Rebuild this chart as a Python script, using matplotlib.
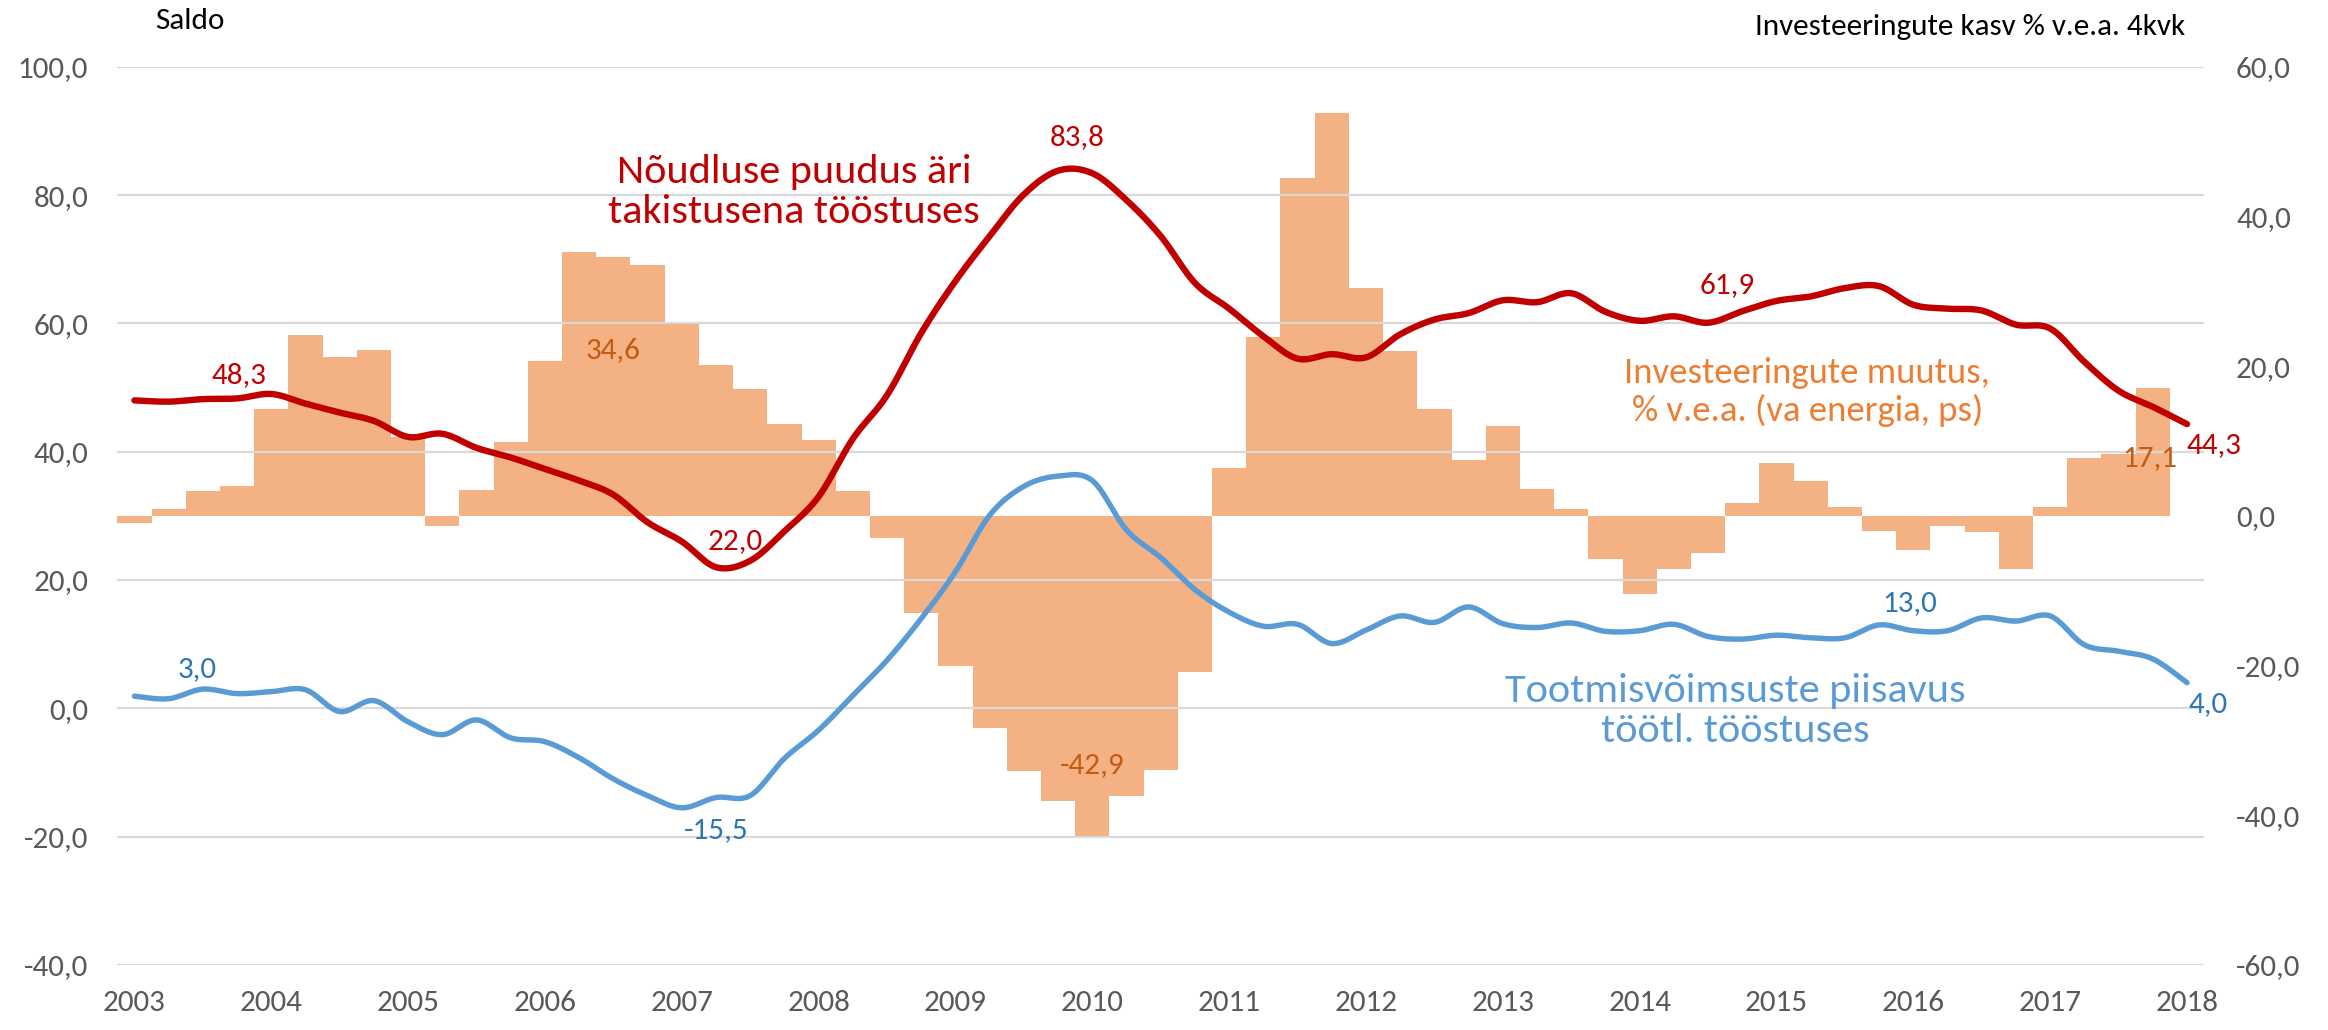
import numpy as np
import matplotlib
matplotlib.use("Agg")
import matplotlib.pyplot as plt
from matplotlib import font_manager as fm
from matplotlib.ticker import FuncFormatter, MultipleLocator

# ---------------- data ----------------
year_labels = [str(y) for y in range(2003, 2019)]

# Investment growth, % y/y (4 quarters), quarterly 2003Q1..2017Q4 (right axis)
investment = [-0.9, 0.9, 3.3, 4.0, 14.3, 24.2, 21.2, 22.1, 10.6, -1.3,
              3.4, 9.9, 20.7, 35.2, 34.6, 33.5, 25.9, 20.2, 17.0, 12.3,
              10.2, 3.3, -3.0, -13.0, -20.1, -28.4, -34.1, -38.1, -42.9, -37.4,
              -33.9, -20.9, 6.4, 23.9, 45.2, 53.8, 30.4, 22.0, 14.3, 7.5,
              12.0, 3.6, 0.9, -5.7, -10.4, -7.1, -5.0, 1.7, 7.1, 4.6,
              1.2, -2.0, -4.5, -1.4, -2.2, -7.1, 1.2, 7.7, 8.2, 17.1]

# Lack of demand as a limiting factor in industry, balance, 2003Q1..2018Q1 (left axis)
demand = [48.0, 47.8, 48.2, 48.3, 49.0, 47.5, 46.1, 44.8, 42.3, 42.8,
          40.6, 39.1, 37.3, 35.5, 33.3, 29.0, 26.0, 22.0, 23.0, 27.6,
          33.0, 42.0, 48.8, 58.5, 66.6, 73.6, 80.1, 83.8, 83.4, 79.2,
          73.6, 66.3, 62.3, 58.0, 54.5, 55.2, 54.7, 58.3, 60.6, 61.6,
          63.6, 63.3, 64.7, 61.8, 60.4, 61.1, 60.1, 61.9, 63.5, 64.2,
          65.5, 65.8, 62.9, 62.3, 62.0, 59.8, 59.2, 54.0, 49.5, 47.0, 44.3]

# Adequacy of production capacity in manufacturing, balance, 2003Q1..2018Q1 (left axis)
capacity = [1.9, 1.5, 3.0, 2.3, 2.6, 2.9, -0.5, 1.2, -2.1, -4.1,
            -1.8, -4.6, -5.2, -7.7, -11.0, -13.6, -15.5, -13.9, -13.6, -7.8,
            -3.4, 2.0, 7.5, 14.0, 21.3, 30.1, 34.6, 36.2, 35.5, 27.8,
            23.5, 18.5, 15.0, 12.8, 13.1, 10.1, 12.2, 14.4, 13.4, 15.8,
            13.2, 12.6, 13.3, 12.0, 12.1, 13.1, 11.2, 10.8, 11.4, 11.0,
            11.0, 13.0, 12.1, 12.1, 14.1, 13.6, 14.4, 9.9, 8.9, 7.7, 4.0]

# ---------------- fonts ----------------
names = {f.name for f in fm.fontManager.ttflist}
if 'Carlito' in names:
    FAM, K = ['Carlito', 'DejaVu Sans'], 1.0
else:
    FAM, K = ['Lato', 'DejaVu Sans'], 0.88
plt.rcParams['font.family'] = FAM

FS = 22.4 * K          # tick / label size
FS_BIG = 30.4 * K
FS_ORANGE = 26.5 * K

RED = '#C00000'
BLUE = '#5B9BD5'
BLUE_LBL = '#2E75B6'
BAR = '#F4B183'
ORANGE_LBL = '#C55A11'
ORANGE_TXT = '#ED7D31'
GRAY = '#595959'
GRID = '#D9D9D9'


def smooth(vals, steps=24):
    """Catmull-Rom rendering of a series (like a spreadsheet 'smoothed line')."""
    y = np.asarray(vals, float)
    x = np.arange(len(y), dtype=float)
    P = np.column_stack([x, y])
    E = np.vstack([P[0], P, P[-1]])
    out = []
    t = np.linspace(0, 1, steps, endpoint=False)[:, None]
    for i in range(len(y) - 1):
        p0, p1, p2, p3 = E[i], E[i + 1], E[i + 2], E[i + 3]
        c = 0.5 * (2 * p1 + (-p0 + p2) * t + (2 * p0 - 5 * p1 + 4 * p2 - p3) * t ** 2
                   + (-p0 + 3 * p1 - 3 * p2 + p3) * t ** 3)
        out.append(c)
    out.append(P[-1:])
    C = np.vstack(out)
    return C[:, 0], C[:, 1]


fig = plt.figure(figsize=(23.28, 10.30), dpi=100)
ax = fig.add_axes([0.05039, 0.06311, 0.8964, 0.8721])
ax2 = ax.twinx()

# bars on right axis
qx = np.arange(len(investment))
ax2.bar(qx, investment, width=1.0, color=BAR, edgecolor='none', zorder=2)
ax2.set_ylim(-60, 60)
ax2.yaxis.set_major_locator(MultipleLocator(20))

# lines on left axis, drawn above the bars
ax.set_zorder(ax2.get_zorder() + 1)
ax.patch.set_visible(False)
xs, ys = smooth(demand)
ax.plot(xs, ys, color=RED, lw=4.6, solid_capstyle='round', zorder=5)
xs, ys = smooth(capacity)
ax.plot(xs, ys, color=BLUE, lw=3.9, solid_capstyle='round', zorder=5)

ax.set_ylim(-40, 100)
ax.yaxis.set_major_locator(MultipleLocator(20))
ax.set_xlim(-0.5, len(demand) - 0.5)
ax.set_xticks(np.arange(0, len(demand), 4))
ax.set_xticklabels(year_labels)
ax.grid(axis='y', color=GRID, lw=1.6, zorder=1)
ax.set_axisbelow(True)

fmt = FuncFormatter(lambda v, p: f"{v:.1f}".replace('.', ','))
ax.yaxis.set_major_formatter(fmt)
ax2.yaxis.set_major_formatter(fmt)

for a in (ax, ax2):
    for s in a.spines.values():
        s.set_visible(False)
ax.tick_params(axis='both', length=0, labelsize=FS, labelcolor=GRAY)
ax.tick_params(axis='y', pad=21)
ax.tick_params(axis='x', pad=18)
ax2.tick_params(axis='y', length=0, labelsize=FS, labelcolor=GRAY, pad=23)

# data labels
def lbl(x, y, s, c):
    ax.text(x, y, s, color=c, fontsize=FS, ha='center', va='center', zorder=6, clip_on=False)

lbl(3.06, 52.0, '48,3', RED)
lbl(17.56, 26.0, '22,0', RED)
lbl(27.55, 89.0, '83,8', RED)
lbl(46.55, 65.9, '61,9', RED)
lbl(60.8, 41.0, '44,3', RED)
lbl(1.84, 6.2, '3,0', BLUE_LBL)
lbl(17.0, -18.9, '-15,5', BLUE_LBL)
lbl(51.9, 16.4, '13,0', BLUE_LBL)
lbl(60.6, 0.6, '4,0', BLUE_LBL)
lbl(14.0, 55.9, '34,6', ORANGE_LBL)
lbl(27.99, -8.9, '-42,9', ORANGE_LBL)
lbl(58.9, 39.0, '17,1', ORANGE_LBL)

# series names
ax.text(19.28, 80.5, 'Nõudluse puudus äri\ntakistusena tööstuses', color=RED,
        fontsize=FS_BIG, ha='center', va='center', linespacing=1.12, zorder=6)
ax.text(48.9, 49.3, 'Investeeringute muutus,\n% v.e.a. (va energia, ps)', color=ORANGE_TXT,
        fontsize=FS_ORANGE, ha='center', va='center', linespacing=1.15, zorder=6)
ax.text(46.8, -0.4, 'Tootmisvõimsuste piisavus\ntöötl. tööstuses', color=BLUE,
        fontsize=FS_BIG, ha='center', va='center', linespacing=1.12, zorder=6)

# axis titles
fig.text(155 / 2328, 1 - 29 / 1030, 'Saldo', fontsize=FS, color='black', ha='left', va='baseline')
fig.text(2185 / 2328, 1 - 35 / 1030, 'Investeeringute kasv % v.e.a. 4kvk', fontsize=FS,
         color='black', ha='right', va='baseline')

fig.savefig('out.png', dpi=100)
